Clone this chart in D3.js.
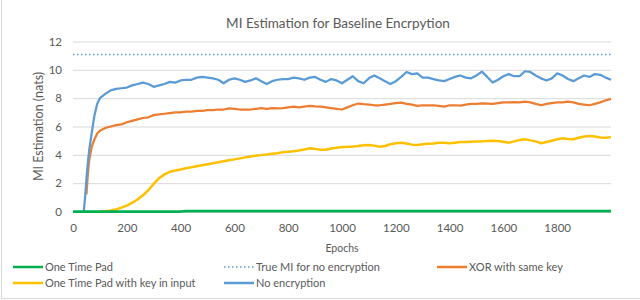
<!DOCTYPE html>
<html>
<head>
<meta charset="utf-8">
<script src="https://cdn.jsdelivr.net/npm/d3@7"></script>
<style>
    body { margin: 0; background: white; }
    text { font-family: Lato, "Open Sans", sans-serif; fill: #595959; }
</style>
</head>
<body>
<div id="chart"></div>
<script>
//// Data

const epochs = [0, 20, 40, 45, 50, 55, 60, 70, 80, 90, 100,
    120, 140, 160, 180, 200, 220, 240, 260, 280, 300,
    320, 340, 360, 380, 400, 420, 440, 460, 480, 500,
    520, 540, 560, 580, 600, 620, 640, 660, 680, 700,
    720, 740, 760, 780, 800, 820, 840, 860, 880, 900,
    920, 940, 960, 980, 1000, 1020, 1040, 1060, 1080, 1100,
    1120, 1140, 1160, 1180, 1200, 1220, 1240, 1260, 1280, 1300,
    1320, 1340, 1360, 1380, 1400, 1420, 1440, 1460, 1480, 1500,
    1520, 1540, 1560, 1580, 1600, 1620, 1640, 1660, 1680, 1700,
    1720, 1740, 1760, 1780, 1800, 1820, 1840, 1860, 1880, 1900,
    1920, 1940, 1960, 1980, 2000]

const one_time_pad = [0, 0, 0, 0, 0, 0, 0, 0, 0, 0, 0,
    0, 0, 0, 0, 0, 0, 0, 0, 0, 0,
    0, 0, 0, 0, 0, 0.02, 0.02, 0.03, 0.03, 0.02,
    0.03, 0.03, 0.03, 0.02, 0.03, 0.03, 0.03, 0.03, 0.02, 0.03,
    0.03, 0.03, 0.02, 0.03, 0.03, 0.03, 0.03, 0.03, 0.03, 0.02,
    0.03, 0.03, 0.03, 0.03, 0.03, 0.02, 0.03, 0.03, 0.03, 0.03,
    0.03, 0.03, 0.02, 0.03, 0.03, 0.03, 0.03, 0.03, 0.02, 0.03,
    0.03, 0.03, 0.03, 0.02, 0.03, 0.03, 0.03, 0.03, 0.03, 0.03,
    0.03, 0.02, 0.03, 0.03, 0.03, 0.03, 0.03, 0.03, 0.02, 0.03,
    0.03, 0.03, 0.03, 0.03, 0.03, 0.03, 0.02, 0.03, 0.03, 0.03,
    0.03, 0.03, 0.03, 0.03, 0.03]

const otp_with_key = [null, null, null, null, null, null, null, null, null, null, 0,
    0.02, 0.07, 0.15, 0.27, 0.42, 0.62, 0.85, 1.15, 1.5, 1.95,
    2.35, 2.62, 2.8, 2.9, 2.97, 3.05, 3.12, 3.2, 3.27, 3.33,
    3.4, 3.48, 3.55, 3.62, 3.68, 3.75, 3.82, 3.88, 3.93, 3.98,
    4.03, 4.08, 4.12, 4.18, 4.22, 4.26, 4.3, 4.38, 4.46, 4.42,
    4.36, 4.36, 4.45, 4.5, 4.55, 4.55, 4.58, 4.62, 4.68, 4.7,
    4.65, 4.57, 4.62, 4.75, 4.82, 4.86, 4.8, 4.72, 4.7, 4.75,
    4.78, 4.8, 4.85, 4.85, 4.82, 4.86, 4.9, 4.9, 4.93, 4.95,
    4.95, 4.97, 5.0, 4.98, 4.92, 4.86, 4.95, 5.05, 5.1, 5.02,
    4.95, 4.82, 4.9, 5.0, 5.1, 5.17, 5.12, 5.1, 5.2, 5.3,
    5.33, 5.3, 5.22, 5.2, 5.25]

const xor_same_key = [null, null, null, null, 1.2, 2.6, 3.6, 4.6, 5.1, 5.5, 5.7,
    5.9, 6.0, 6.1, 6.15, 6.3, 6.4, 6.5, 6.6, 6.65, 6.8,
    6.85, 6.9, 6.95, 7.0, 7.0, 7.05, 7.05, 7.1, 7.1, 7.15,
    7.15, 7.2, 7.2, 7.28, 7.25, 7.2, 7.2, 7.2, 7.25, 7.3,
    7.25, 7.3, 7.28, 7.3, 7.35, 7.4, 7.35, 7.4, 7.45, 7.42,
    7.4, 7.35, 7.3, 7.25, 7.2, 7.35, 7.5, 7.62, 7.58, 7.55,
    7.5, 7.5, 7.55, 7.6, 7.65, 7.68, 7.6, 7.55, 7.45, 7.5,
    7.5, 7.5, 7.45, 7.4, 7.5, 7.5, 7.47, 7.55, 7.6, 7.6,
    7.63, 7.62, 7.6, 7.65, 7.7, 7.7, 7.72, 7.7, 7.75, 7.7,
    7.6, 7.5, 7.6, 7.65, 7.7, 7.7, 7.75, 7.7, 7.6, 7.55,
    7.5, 7.6, 7.7, 7.85, 7.95]

const no_encryption = [null, null, 0, 1.0, 2.3, 3.4, 4.3, 5.6, 6.8, 7.6, 8.0,
    8.3, 8.55, 8.65, 8.7, 8.75, 8.9, 9.0, 9.1, 9.0, 8.8,
    8.9, 9.0, 9.15, 9.1, 9.25, 9.3, 9.3, 9.45, 9.5, 9.45,
    9.4, 9.3, 9.05, 9.3, 9.4, 9.3, 9.15, 9.25, 9.4, 9.2,
    9.0, 9.2, 9.3, 9.35, 9.35, 9.45, 9.4, 9.3, 9.45, 9.5,
    9.3, 9.15, 9.35, 9.25, 9.05, 9.3, 9.55, 9.2, 9.05, 9.4,
    9.6, 9.4, 9.2, 9.0, 9.2, 9.5, 9.85, 9.7, 9.75, 9.45,
    9.45, 9.35, 9.25, 9.2, 9.35, 9.5, 9.6, 9.45, 9.4, 9.6,
    9.87, 9.5, 9.1, 9.3, 9.55, 9.7, 9.55, 9.55, 9.9, 9.85,
    9.6, 9.4, 9.25, 9.4, 9.75, 9.6, 9.35, 9.2, 9.4, 9.6,
    9.5, 9.7, 9.65, 9.45, 9.3]

// ln(65536), the true MI without encryption
const true_mi = 11.09

const x_ticks = [0, 200, 400, 600, 800, 1000, 1200, 1400, 1600, 1800]
const y_ticks = [0, 2, 4, 6, 8, 10, 12]

// Series in drawing order (the legend uses its own order below)
const series = [
    {name: "One Time Pad with key in input", values: otp_with_key, color: "#ffc000", width: 2.5},
    {name: "XOR with same key", values: xor_same_key, color: "#ed7d31", width: 2.25},
    {name: "No encryption", values: no_encryption, color: "#5b9bd5", width: 2.25},
    {name: "One Time Pad", values: one_time_pad, color: "#00b050", width: 2.75}
]


//// Chart
const width = 640
const height = 300
const plot = {left: 73, right: 611, top: 41.5, bottom: 211.5}

var svg = d3.select("#chart")
    .append("svg")
        .attr("width", width)
        .attr("height", height)

// Light outer border like the Excel chart area
svg
    .append("rect")
        .attr("x", 1.5)
        .attr("y", -2)
        .attr("width", width + 5)
        .attr("height", 300.5)
        .attr("fill", "white")
        .attr("stroke", "#d9d9d9")
        .attr("stroke-width", 1)

var x = d3.scaleLinear()
    .domain([0, 2000])
    .range([plot.left, plot.right])

var y = d3.scaleLinear()
    .domain([0, 12])
    .range([plot.bottom, plot.top])

// Horizontal gridlines
svg
    .append("g")
        .attr("transform", "translate(" + plot.left + ",0)")
        .call(d3.axisLeft(y).tickValues(y_ticks).tickSize(-(plot.right - plot.left)).tickFormat(""))
        .call(g => g.select(".domain").remove())
        .call(g => g.selectAll("line").attr("stroke", "#d9d9d9"))

// Y tick labels
svg
    .append("g")
        .attr("transform", "translate(" + (plot.left - 11) + ",0)")
        .call(d3.axisLeft(y).tickValues(y_ticks).tickSize(0).tickPadding(0))
        .call(g => g.select(".domain").remove())
        .call(g => g.selectAll("text")
            .style("font-family", "Lato, 'Open Sans', sans-serif")
            .style("font-size", "11.5px")
            .attr("fill", "#595959"))

// X axis line and tick labels
svg
    .append("g")
        .attr("transform", "translate(0," + plot.bottom + ")")
        .call(d3.axisBottom(x).tickValues(x_ticks).tickFormat(d3.format("d")).tickSize(0).tickPadding(12))
        .call(g => g.select(".domain").attr("stroke", "#d9d9d9"))
        .call(g => g.selectAll("text")
            .style("font-family", "Lato, 'Open Sans', sans-serif")
            .style("font-size", "11.5px")
            .attr("fill", "#595959"))

// Title and axis titles
svg
    .append("text")
        .attr("text-anchor", "middle")
        .attr("x", 338)
        .attr("y", 28)
        .style("font-size", "13.5px")
        .text("MI Estimation for Baseline Encrpytion")

svg
    .append("text")
        .attr("text-anchor", "middle")
        .attr("x", 342)
        .attr("y", 252)
        .style("font-size", "10.5px")
        .text("Epochs")

svg
    .append("text")
        .attr("text-anchor", "middle")
        .attr("transform", "rotate(-90)")
        .attr("x", -126.5)
        .attr("y", 43)
        .style("font-size", "12.5px")
        .text("MI Estimation (nats)")

// True MI reference line (dotted)
svg
    .append("line")
        .attr("x1", x(0))
        .attr("x2", x(2000))
        .attr("y1", y(true_mi))
        .attr("y2", y(true_mi))
        .attr("stroke", "#5b9bd5")
        .attr("stroke-width", 1.5)
        .attr("stroke-dasharray", "1.5,2.5")

// Series lines
var line_generator = d3.line()
    .defined(d => d[1] !== null)
    .x(d => x(d[0]))
    .y(d => y(d[1]))

svg
    .append("g")
        .selectAll("path")
            .data(series)
            .enter()
            .append("path")
                .attr("d", d => line_generator(epochs.map((e, i) => [e, d.values[i]])))
                .attr("fill", "none")
                .attr("stroke", d => d.color)
                .attr("stroke-width", d => d.width)
                .attr("stroke-linejoin", "round")


//// Legend
const legend_items = [
    {name: "One Time Pad", color: "#00b050", dash: null, x: 13, y: 267},
    {name: "True MI for no encryption", color: "#5b9bd5", dash: "1.5,2.5", x: 224, y: 267},
    {name: "XOR with same key", color: "#ed7d31", dash: null, x: 437, y: 267},
    {name: "One Time Pad with key in input", color: "#ffc000", dash: null, x: 13, y: 283},
    {name: "No encryption", color: "#5b9bd5", dash: null, x: 224, y: 283}
]

var legend = svg
    .append("g")
        .selectAll("g")
            .data(legend_items)
            .enter()
            .append("g")
                .attr("transform", d => "translate(" + d.x + "," + d.y + ")")

legend
    .append("line")
        .attr("x1", 0)
        .attr("x2", 30)
        .attr("stroke", d => d.color)
        .attr("stroke-width", d => d.dash ? 1.5 : 2.5)
        .attr("stroke-dasharray", d => d.dash)

legend
    .append("text")
        .attr("x", 32)
        .attr("dy", "0.35em")
        .style("font-size", "11px")
        .text(d => d.name)
</script>
</body>
</html>
